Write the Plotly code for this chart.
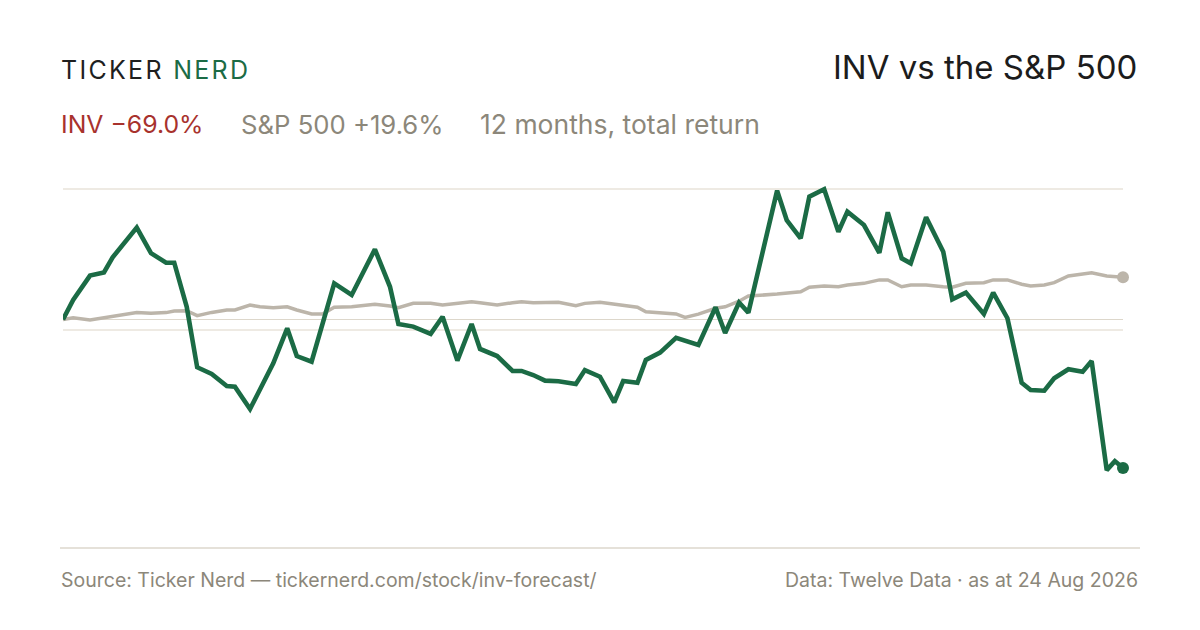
import pandas as pd
import plotly.graph_objects as go

# ---- data (day offset from start, % total return) ----
days = [0, 3.5, 9.3, 14.1, 17.1, 21.7, 25.4, 30.3, 35.5, 38.3, 42.6, 46.2, 51.2, 56.4, 59.2,
        64.4, 67.8, 72.4, 77.2, 80.5, 85.6, 89.4, 93.4, 99.4, 107.4, 112.6, 115.5, 120.6, 126.6,
        130.7, 135.8, 140.7, 143.6, 149.5, 154.8, 157.9, 161.9, 166.0, 170.6, 176.6, 179.7, 184.9,
        189.8, 192.9, 197.8, 200.7, 205.6, 211.1, 214.2, 218.8, 224.7, 228.0, 232.8, 236.0, 245.9,
        249.2, 254.0, 257.0, 262.1, 267.0, 270.1, 275.8, 281.1, 284.0, 288.8, 291.9, 297.2, 303.1,
        306.2, 310.9, 317.1, 320.3, 325.2, 330.1, 333.2, 337.9, 341.3, 346.2, 351.1, 354.2, 359.4,
        362.2, 365]
inv_ret = [0.0, 9.1, 20.4, 21.9, 28.9, 36.9, 42.7, 30.8, 26.4, 26.4, 5.9, -22.2, -25.3, -30.9, -31.2,
           -41.6, -32.8, -20.4, -4.1, -17.0, -19.6, -1.8, 16.8, 11.4, 32.6, 15.2, -2.1, -3.3, -6.7,
           1.3, -19.1, -2.1, -13.7, -17.0, -23.9, -23.9, -25.8, -28.4, -28.7, -30.0, -23.5, -26.6,
           -38.5, -28.6, -29.4, -18.8, -15.4, -8.5, -9.9, -11.8, 5.7, -6.3, 7.9, 3.2, 59.9,
           46.2, 37.7, 57.1, 60.5, 40.8, 50.1, 43.9, 31.0, 49.8, 28.4, 26.1, 47.5, 31.5,
           9.4, 12.5, 2.6, 12.5, 0.6, -29.4, -32.8, -33.1, -27.3, -23.1, -24.3, -19.3, -70.0,
           -65.8, -69.0]
spx_ret = [0.0, 0.8, -0.2, 0.8, 1.8, 2.4, 3.2, 2.9, 3.2, 3.9, 4.1, 1.8, 3.3, 4.4, 4.4,
           6.7, 5.9, 5.5, 5.9, 4.4, 2.6, 2.6, 5.7, 5.9, 7.1, 6.3, 5.5, 7.5, 7.5,
           6.7, 7.5, 8.3, 7.8, 6.7, 7.8, 8.3, 7.8, 7.8, 8.0, 6.4, 7.5, 8.0,
           7.1, 6.3, 5.7, 3.6, 3.3, 2.6, 1.0, 2.5, 5.2, 5.9, 8.5, 10.9, 11.8,
           12.2, 12.9, 15.0, 15.6, 15.2, 16.0, 16.8, 18.4, 18.4, 15.2, 16.0, 16.0, 15.2,
           15.0, 16.8, 17.1, 18.4, 18.4, 16.4, 15.6, 16.0, 17.1, 20.2, 21.0, 21.7, 20.2,
           19.9, 19.6]
start_date = "2025-08-24"
end_date = "2026-08-24"
grid_vals = [-4.65, 60.6]
title_text = "INV vs the S&P 500"
inv_label = "INV \u221269.0%"
spx_label = "S&P 500 +19.6%"
period_label = "12 months, total return"
source_text = "Source: Ticker Nerd \u2014 tickernerd.com/stock/inv-forecast/"
data_text = "Data: Twelve Data \u00b7 as at 24 Aug 2026"

dates = pd.Timestamp(start_date) + pd.to_timedelta(days, unit="D")

GREEN = "#1b6b45"
GREY_LINE = "#bcb5aa"
RED = "#a8322d"
GREY_TXT = "#8c877a"
FONT = "Inter"

OFF = 8  # page body margin
W, H = 1200 - 2 * OFF, 630 - 2 * OFF
# plot area in screen pixels
X0, X1, Y0, Y1 = 63, 1123, 180, 548
L, R, T, B = X0 - OFF, W - (X1 - OFF), Y0 - OFF, H - (Y1 - OFF)
PW, PH = X1 - X0, Y1 - Y0
ZERO_Y, PX_PER = 319.5, 2.152


def px(x):
    return (x - X0) / PW


def py(y):
    return (Y1 - y) / PH


fig = go.Figure()
fig.add_trace(go.Scatter(x=dates, y=spx_ret, mode="lines",
                         line=dict(color=GREY_LINE, width=3.5), hoverinfo="skip"))
fig.add_trace(go.Scatter(x=dates, y=inv_ret, mode="lines",
                         line=dict(color=GREEN, width=4.6), hoverinfo="skip"))
fig.add_trace(go.Scatter(x=[dates[-1]], y=[spx_ret[-1]], mode="markers", cliponaxis=False,
                         marker=dict(color=GREY_LINE, size=12), hoverinfo="skip"))
fig.add_trace(go.Scatter(x=[dates[-1]], y=[inv_ret[-1]], mode="markers", cliponaxis=False,
                         marker=dict(color=GREEN, size=12), hoverinfo="skip"))

# bottom rule across the full width
fig.add_shape(type="line", xref="paper", yref="paper", x0=px(60), x1=px(1140), y0=0, y1=0,
              line=dict(color="#dcd7cc", width=1.5))

ann = []
ann.append(dict(x=px(59), y=py(70), xanchor="left", yanchor="middle",
                text='<span style="letter-spacing:2.3px">TICKER</span><span style="letter-spacing:2.3px;color:%s"> NERD</span>' % GREEN,
                font=dict(family=FONT, size=25, color="#1f1f1f")))
ann.append(dict(x=px(1139), y=py(67), xanchor="right", yanchor="middle", text=title_text,
                font=dict(family=FONT, size=33, color="#1c1c1c")))
ann.append(dict(x=px(59), y=py(124), xanchor="left", yanchor="middle", text=inv_label,
                font=dict(family=FONT, size=24.8, color=RED)))
ann.append(dict(x=px(239), y=py(124), xanchor="left", yanchor="middle", text=spx_label,
                font=dict(family=FONT, size=25.7, color=GREY_TXT)))
ann.append(dict(x=px(478), y=py(124), xanchor="left", yanchor="middle", text=period_label,
                font=dict(family=FONT, size=26.5, color=GREY_TXT)))
ann.append(dict(x=px(59), y=py(580), xanchor="left", yanchor="middle", text=source_text,
                font=dict(family=FONT, size=19.5, color=GREY_TXT)))
ann.append(dict(x=px(1140), y=py(580), xanchor="right", yanchor="middle", text=data_text,
                font=dict(family=FONT, size=19.5, color=GREY_TXT)))
for a in ann:
    a.update(xref="paper", yref="paper", showarrow=False)

fig.update_layout(
    width=W, height=H,
    margin=dict(l=L, r=R, t=T, b=B, pad=0),
    paper_bgcolor="white", plot_bgcolor="white",
    showlegend=False,
    annotations=ann,
    font=dict(family=FONT),
)
fig.update_xaxes(range=[pd.Timestamp(start_date), pd.Timestamp(end_date)],
                 showgrid=False, zeroline=False, showticklabels=False, ticks="",
                 showline=False, fixedrange=True)
fig.update_yaxes(range=[(ZERO_Y - Y1) / PX_PER, (ZERO_Y - Y0) / PX_PER],
                 tickvals=grid_vals, showticklabels=False, ticks="", showline=False,
                 fixedrange=True, showgrid=True, gridcolor="#eeeae3", gridwidth=1.6,
                 zeroline=True, zerolinecolor="#ddd7cb", zerolinewidth=1)

fig.write_html("out.html")
